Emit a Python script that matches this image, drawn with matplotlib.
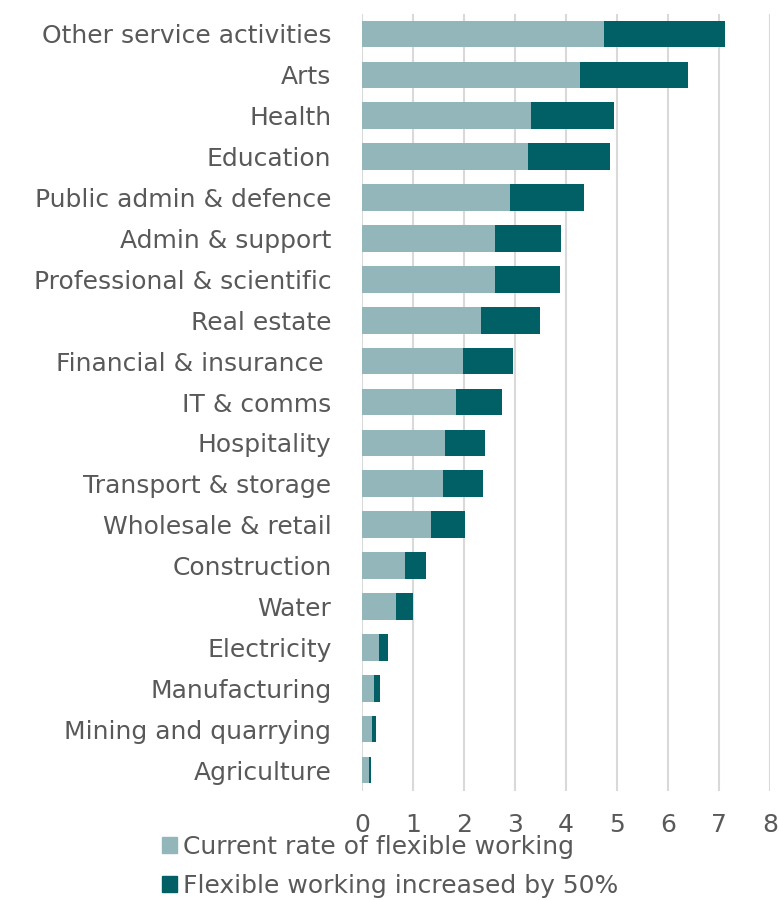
import matplotlib
matplotlib.use("Agg")
import matplotlib.pyplot as plt
import numpy as np
from matplotlib.patches import Patch

categories = ["Other service activities", "Arts", "Health", "Education",
              "Public admin & defence", "Admin & support",
              "Professional & scientific", "Real estate",
              "Financial & insurance ", "IT & comms", "Hospitality",
              "Transport & storage", "Wholesale & retail", "Construction",
              "Water", "Electricity", "Manufacturing",
              "Mining and quarrying", "Agriculture"]

# current rate of flexible working
current = [4.75, 4.27, 3.31, 3.25, 2.90, 2.61, 2.60, 2.33, 1.98, 1.84,
           1.62, 1.58, 1.35, 0.84, 0.67, 0.33, 0.24, 0.19, 0.13]
# extra from a 50% increase
increase = [2.37, 2.13, 1.63, 1.61, 1.45, 1.30, 1.29, 1.16, 0.99, 0.91,
            0.80, 0.79, 0.67, 0.41, 0.33, 0.17, 0.11, 0.09, 0.05]

x_ticks = [0, 1, 2, 3, 4, 5, 6, 7, 8]

LIGHT = "#93B6BB"
DARK = "#006066"
TEXT = "#595959"
FS = 18

plt.rcParams["font.family"] = ["DejaVu Sans"]

fig = plt.figure(figsize=(7.79, 9), dpi=100)
ax = fig.add_axes([362 / 779, 1 - 790.5 / 900, 408 / 779, 777 / 900])

y = np.arange(len(categories))
ax.barh(y, current, height=0.65, color=LIGHT, label="Current rate of flexible working", zorder=3)
ax.barh(y, increase, left=current, height=0.65, color=DARK,
        label="Flexible working increased by 50%", zorder=3)

ax.set_ylim(len(categories) - 0.5, -0.5)
ax.set_xlim(0, 8)
ax.set_xticks(x_ticks)
ax.set_yticks(y)
ax.set_yticklabels(categories)

ax.grid(axis="x", color="#D9D9D9", linewidth=1.5, zorder=0)
for s in ax.spines.values():
    s.set_visible(False)
ax.tick_params(axis="y", length=0, pad=22, labelsize=FS, labelcolor=TEXT)
ax.tick_params(axis="x", length=0, pad=16, labelsize=FS, labelcolor=TEXT)

handles = [Patch(color=LIGHT), Patch(color=DARK)]
fig.legend(handles, ["Current rate of flexible working", "Flexible working increased by 50%"],
           loc="upper left", bbox_to_anchor=(162 / 779, 1 - 835 / 900),
           frameon=False, fontsize=FS, labelcolor=TEXT, handlelength=0.6,
           handleheight=0.6, handletextpad=0.25, labelspacing=0.6, borderpad=0,
           borderaxespad=0)

fig.savefig("out.png", dpi=100)
